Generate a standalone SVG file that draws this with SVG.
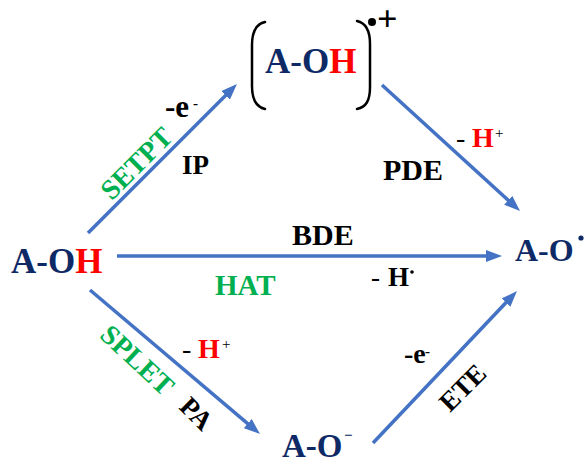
<svg xmlns="http://www.w3.org/2000/svg" width="587" height="463" viewBox="0 0 587 463">
<style>
text{font-family:'Liberation Serif','Times New Roman',serif;font-weight:bold;}
.mol{fill:#0E2A66;font-size:35px;}
.lab{fill:#000;font-size:28px;}
.grn{fill:#00B050;font-size:28px;}
.red{fill:#FF0000;}
.sup{font-weight:normal;}
.arr{stroke:#4472C4;stroke-width:3.5;fill:none;marker-end:url(#ah);}
.br{stroke:#000;stroke-width:2.5;fill:none;stroke-linecap:round;}
</style>
<defs>
<marker id="ah" markerUnits="userSpaceOnUse" markerWidth="16" markerHeight="12" refX="8" refY="6" orient="auto">
<path d="M0,0 L16,6 L0,12 z" fill="#4472C4"/>
</marker>
</defs>
<g id="connectors">
<path class="arr" d="M88,233 L231.3,89.7"/>
<path class="arr" d="M382,85 L514.1,205.6"/>
<path class="arr" d="M117,256 L494,256"/>
<path class="arr" d="M90,290 L253.9,428.8"/>
<path class="arr" d="M373,443 L511.5,296.8"/>
</g>
<g id="node-AOH">
<text class="mol" x="11" y="273">A-O<tspan class="red">H</tspan></text>
</g>
<g id="node-AOH-radical-cation">
<path class="br" d="M265,22 C256,24 252,31 252,45 L252,86 C252,100 256,107 265,109"/>
<path class="br" d="M357,21 C366,23 370,30 370,44 L370,87 C370,101 366,107 357,109"/>
<text class="mol" x="265" y="73">A-O<tspan class="red">H</tspan></text>
<circle cx="372" cy="22" r="4" fill="#000"/>
<text x="377" y="31" font-size="36" fill="#000" font-weight="normal">+</text>
</g>
<g id="node-AO-radical">
<text class="mol" x="515" y="261" style="font-size:32px">A-O</text>
<circle cx="581" cy="238" r="2.6" fill="#0E2A66"/>
</g>
<g id="node-AO-anion">
<text class="mol" x="282" y="457" style="font-size:33px">A-O</text>
<text x="344" y="440" font-size="15" fill="#0E2A66" font-weight="normal">−</text>
</g>
<g id="labels">
<text class="lab" x="165" y="117" style="font-size:31px">-e</text>
<text x="193" y="108" font-size="15" fill="#000">-</text>
<text class="lab" x="182" y="174" style="font-size:27px">IP</text>
<text class="grn" transform="translate(143,170) rotate(-45)" text-anchor="middle">SETPT</text>
<text class="lab" x="383" y="180" style="font-size:30px">PDE</text>
<text class="lab" x="456" y="147"><tspan class="sup">-</tspan><tspan class="red" x="472">H</tspan><tspan class="sup" x="495" y="137.5" font-size="15">+</tspan></text>
<text class="lab" x="292" y="245" style="font-size:30px">BDE</text>
<text class="grn" x="215" y="295" style="font-size:29px">HAT</text>
<text class="lab" x="371" y="286" style="font-size:27px"><tspan class="sup">-</tspan><tspan x="388">H</tspan></text>
<circle cx="412" cy="272" r="1.8" fill="#000"/>
<text class="grn" transform="translate(131,367) rotate(43)" text-anchor="middle">SPLET</text>
<text class="lab" transform="translate(190,420) rotate(45)" text-anchor="middle" style="font-size:27px">PA</text>
<text class="lab" x="182" y="358"><tspan class="sup">-</tspan><tspan class="red" x="198">H</tspan><tspan class="sup" x="222" y="349" font-size="15">+</tspan></text>
<text class="lab" x="404" y="363">-e</text>
<text x="425" y="356" font-size="15" fill="#000">-</text>
<text class="lab" transform="translate(469,394) rotate(-45)" text-anchor="middle" style="font-size:27px">ETE</text>
</g>
</svg>
